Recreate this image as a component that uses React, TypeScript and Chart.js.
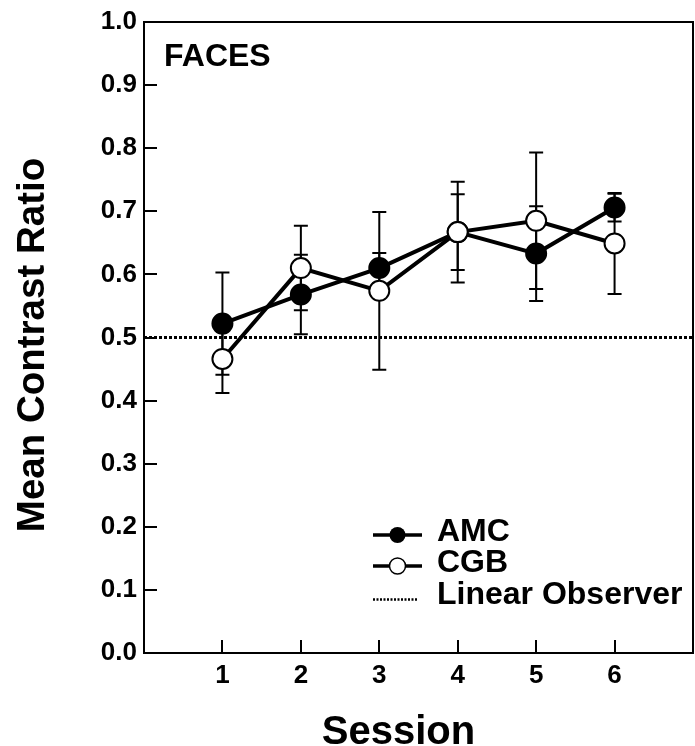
import React, { useEffect, useRef } from "react";
import { Chart, registerables } from "chart.js";

Chart.register(...registerables);

// ---- Data ----
const sessions = [1, 2, 3, 4, 5, 6];
const amcMean = [0.522, 0.568, 0.61, 0.667, 0.633, 0.706];
const amcErr = [0.081, 0.063, 0.024, 0.06, 0.075, 0.022];
const cgbMean = [0.466, 0.61, 0.574, 0.667, 0.685, 0.649];
const cgbErr = [0.054, 0.067, 0.125, 0.08, 0.108, 0.08];
const linearObserverValue = 0.5;
const xRange = [0, 7];
const yRange = [0, 1];
const panelLabel = "FACES";
const seriesNames = ["AMC", "CGB", "Linear Observer"];
const xTitle = "Session";
const yTitle = "Mean Contrast Ratio";

const FONT = "'Liberation Sans', Arial, Helvetica, sans-serif";

const errorBarPlugin = {
  id: "errorBars",
  beforeDatasetsDraw(chart: any) {
    const { ctx } = chart;
    const x = chart.scales.x;
    const y = chart.scales.y;
    ctx.save();
    ctx.strokeStyle = "#000";
    ctx.lineWidth = 2;
    chart.data.datasets.forEach((ds: any) => {
      if (!ds.errors) return;
      ds.data.forEach((p: any, i: number) => {
        const e = ds.errors[i];
        const px = x.getPixelForValue(p.x);
        const top = y.getPixelForValue(p.y + e);
        const bot = y.getPixelForValue(p.y - e);
        ctx.beginPath();
        ctx.moveTo(px, top);
        ctx.lineTo(px, bot);
        ctx.moveTo(px - 7, top);
        ctx.lineTo(px + 7, top);
        ctx.moveTo(px - 7, bot);
        ctx.lineTo(px + 7, bot);
        ctx.stroke();
      });
    });
    ctx.restore();
  },
};

const framePlugin = {
  id: "frame",
  afterDraw(chart: any) {
    const { ctx, chartArea } = chart;
    const x = chart.scales.x;
    const y = chart.scales.y;
    const { left, right, top, bottom } = chartArea;
    ctx.save();
    ctx.strokeStyle = "#000";
    ctx.lineWidth = 2;
    ctx.strokeRect(left, top, right - left, bottom - top);
    ctx.beginPath();
    for (let v = 1; v <= 9; v++) {
      const py = Math.round(y.getPixelForValue(v / 10));
      ctx.moveTo(left, py);
      ctx.lineTo(left + 13, py);
    }
    sessions.forEach((s) => {
      const px = Math.round(x.getPixelForValue(s));
      ctx.moveTo(px, bottom);
      ctx.lineTo(px, bottom - 13);
    });
    ctx.stroke();

    ctx.fillStyle = "#000";

    // axis titles
    ctx.font = `bold 40px ${FONT}`;
    ctx.textAlign = "center";
    ctx.textBaseline = "alphabetic";
    ctx.fillText(xTitle, left + 254.5, bottom + 91);
    ctx.save();
    ctx.translate(left - 100, top + 323);
    ctx.rotate(-Math.PI / 2);
    ctx.font = `bold 38.5px ${FONT}`;
    ctx.fillText(yTitle, 0, 0);
    ctx.restore();

    // panel label
    ctx.font = `bold 32px ${FONT}`;
    ctx.textAlign = "left";
    ctx.textBaseline = "alphabetic";
    ctx.fillText(panelLabel, left + 20, top + 44);

    // legend
    const lx0 = right - 320;
    const lx1 = right - 271;
    const lmx = (lx0 + lx1) / 2;
    const tx = right - 256;
    const rows = [bottom - 121, bottom - 90, bottom - 57.5];
    ctx.font = `bold 32px ${FONT}`;
    ctx.textBaseline = "middle";
    // AMC
    ctx.lineWidth = 3.5;
    ctx.beginPath();
    ctx.moveTo(lx0, rows[0] + 3);
    ctx.lineTo(lx1, rows[0] + 3);
    ctx.stroke();
    ctx.beginPath();
    ctx.arc(lmx, rows[0] + 3, 8, 0, Math.PI * 2);
    ctx.fillStyle = "#000";
    ctx.fill();
    ctx.fillText(seriesNames[0], tx, rows[0]);
    // CGB
    ctx.beginPath();
    ctx.moveTo(lx0, rows[1] + 3);
    ctx.lineTo(lx1, rows[1] + 3);
    ctx.stroke();
    ctx.beginPath();
    ctx.arc(lmx, rows[1] + 3, 8, 0, Math.PI * 2);
    ctx.fillStyle = "#fff";
    ctx.fill();
    ctx.lineWidth = 1.5;
    ctx.stroke();
    ctx.fillStyle = "#000";
    ctx.fillText(seriesNames[1], tx, rows[1]);
    // Linear observer
    ctx.lineWidth = 2.5;
    ctx.setLineDash([2, 1.5]);
    ctx.beginPath();
    ctx.moveTo(lx0, rows[2] + 4);
    ctx.lineTo(lx1 - 4, rows[2] + 4);
    ctx.stroke();
    ctx.setLineDash([]);
    ctx.fillText(seriesNames[2], tx, rows[2]);
    ctx.restore();
  },
};

export default function App() {
  const ref = useRef<HTMLCanvasElement | null>(null);

  useEffect(() => {
    if (!ref.current) return;
    const tickFont = { family: FONT, size: 26, weight: "bold" as const };
    const chart = new Chart(ref.current, {
      type: "line",
      data: {
        datasets: [
          {
            label: seriesNames[1],
            data: sessions.map((s, i) => ({ x: s, y: cgbMean[i] })),
            errors: cgbErr,
            borderColor: "#000",
            borderWidth: 4,
            pointRadius: 10,
            pointBorderWidth: 2,
            pointBackgroundColor: "#fff",
            pointBorderColor: "#000",
            order: 1,
          } as any,
          {
            label: seriesNames[0],
            data: sessions.map((s, i) => ({ x: s, y: amcMean[i] })),
            errors: amcErr,
            borderColor: "#000",
            borderWidth: 4,
            pointRadius: 10,
            pointBorderWidth: 2,
            pointBackgroundColor: "#000",
            pointBorderColor: "#000",
            order: 2,
          } as any,
          {
            label: seriesNames[2],
            data: [
              { x: xRange[0], y: linearObserverValue },
              { x: xRange[1], y: linearObserverValue },
            ],
            borderColor: "#000",
            borderWidth: 3,
            borderDash: [3, 2],
            pointRadius: 0,
            order: 3,
          } as any,
        ],
      },
      options: {
        responsive: false,
        animation: false,
        devicePixelRatio: 1,
        layout: { autoPadding: false, padding: { top: 22, right: 2, left: 0, bottom: 0 } },
        plugins: {
          legend: { display: false },
          tooltip: { enabled: false },
        },
        scales: {
          x: {
            type: "linear",
            min: xRange[0],
            max: xRange[1],
            grid: { display: false, drawTicks: false },
            border: { display: false },
            ticks: {
              stepSize: 1,
              padding: 7,
              color: "#000",
              font: tickFont,
              callback: (v: any) => (sessions.includes(v) ? String(v) : ""),
            },
            title: { display: false, text: xTitle },
            afterFit: (s: any) => {
              s.height = 93;
              s.paddingLeft = 0;
              s.paddingRight = 0;
            },
          },
          y: {
            type: "linear",
            min: yRange[0],
            max: yRange[1],
            grid: { display: false, drawTicks: false },
            border: { display: false },
            ticks: {
              stepSize: 0.1,
              padding: 7,
              color: "#000",
              font: tickFont,
              callback: (v: any) => Number(v).toFixed(1),
            },
            title: { display: false, text: yTitle },
            afterFit: (s: any) => {
              s.width = 144;
              s.paddingTop = 0;
              s.paddingBottom = 0;
            },
          },
        },
      } as any,
      plugins: [errorBarPlugin, framePlugin],
    });
    return () => chart.destroy();
  }, []);

  return (
    <div style={{ position: "absolute", left: 0, top: 0, width: 695, height: 746 }}>
      <canvas ref={ref} width={695} height={746} style={{ display: "block" }} />
    </div>
  );
}
